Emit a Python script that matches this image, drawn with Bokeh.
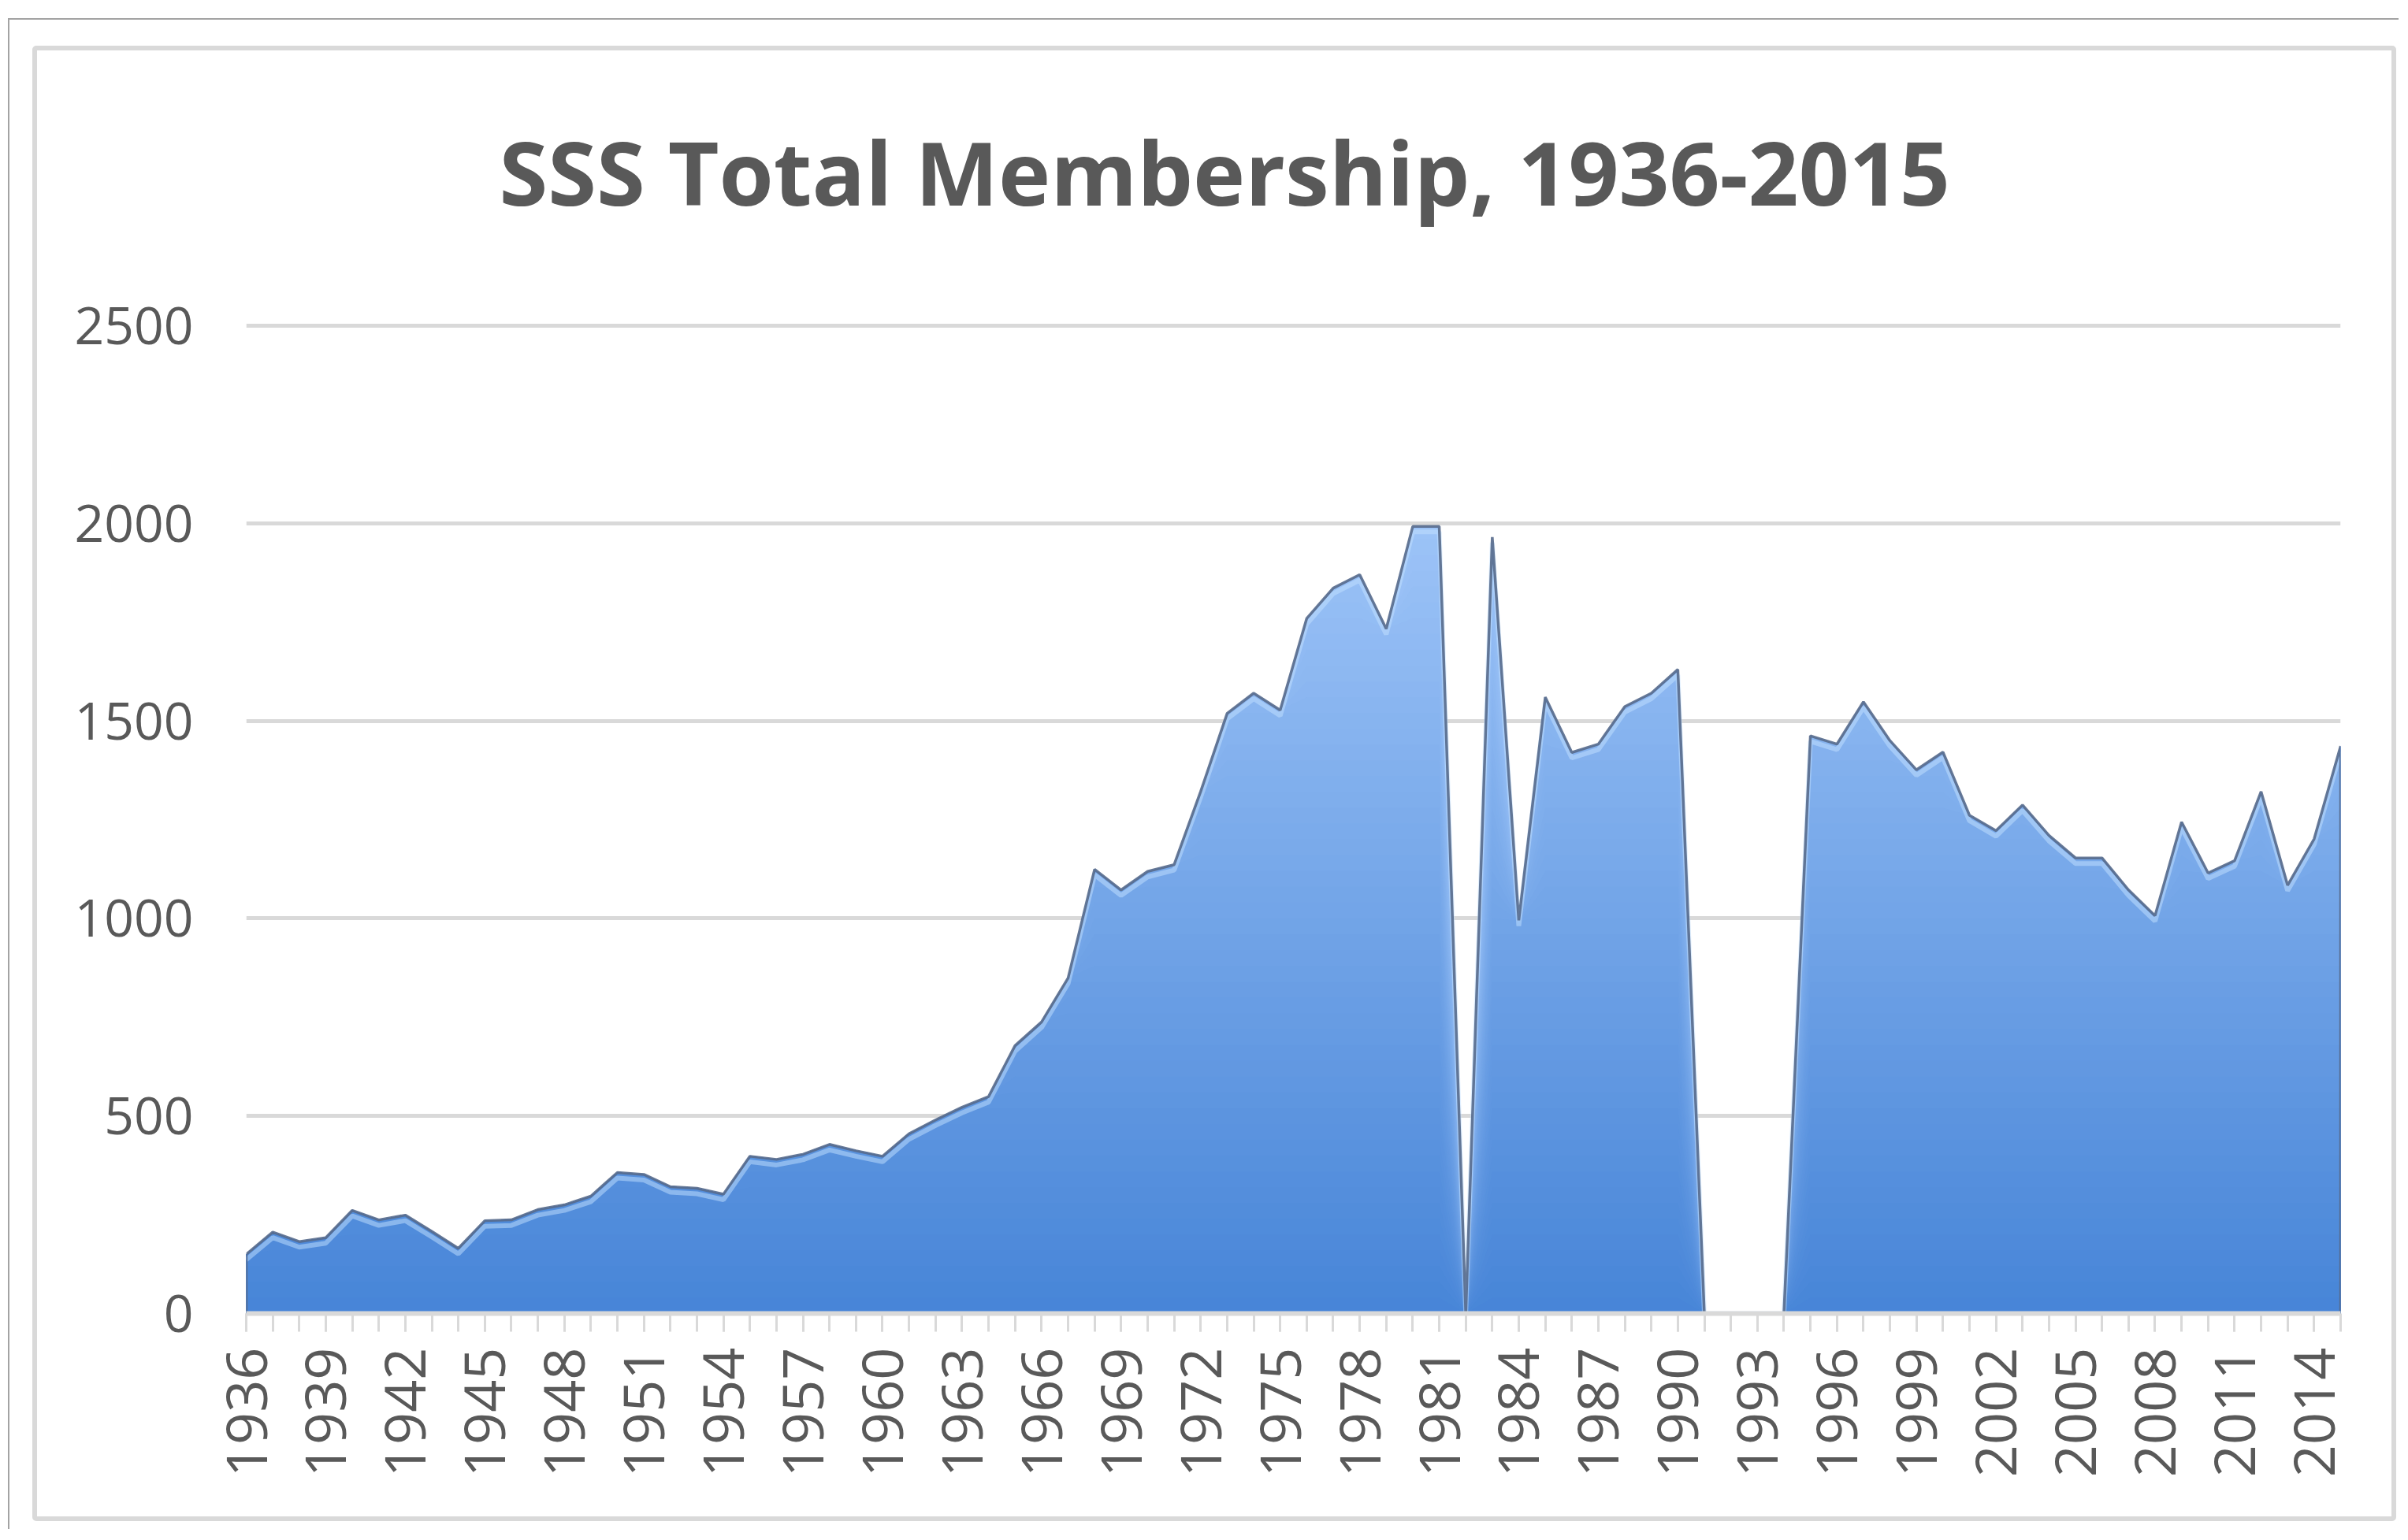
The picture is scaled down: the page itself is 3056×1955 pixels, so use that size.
import numpy as np
from bokeh.plotting import figure
from bokeh.layouts import column
from bokeh.models import FixedTicker, Range1d, Title
from bokeh.embed import file_html
from bokeh.resources import INLINE

# ---- data ----
years = list(range(1936, 2016))
members = [
    150, 206, 182, 192, 261, 237, 249, 208, 165, 235,      # 1936-1945
    237, 263, 275, 297, 357, 352, 321, 317, 302, 398,      # 1946-1955
    390, 403, 428, 412, 398, 455, 490, 522, 549, 678,      # 1956-1965
    738, 849, 1124, 1072, 1119, 1136, 1321, 1519, 1570, 1527,  # 1966-1975
    1759, 1836, 1870, 1733, 1992, 1992, 0, 1965, 995, 1560,    # 1976-1985
    1420, 1441, 1536, 1570, 1630, 0, 0, 0, 0, 1462,            # 1986-1995
    1441, 1548, 1450, 1376, 1421, 1261, 1222, 1287, 1210, 1153,  # 1996-2005
    1153, 1072, 1007, 1244, 1115, 1146, 1321, 1084, 1201, 1436,  # 2006-2015
]
label_years = list(range(1936, 2016, 3))
y_ticks = [0, 500, 1000, 1500, 2000, 2500]
title_text = "SSS Total Membership, 1936-2015"

x = np.array(years, dtype=float)
v = np.array(members, dtype=float)

FONT = "Open Sans"
TXT = "#595959"
GRID = "#d9d9d9"

p = figure(width=3000, height=1873,
           x_range=Range1d(years[0], years[-1]), y_range=Range1d(0, 2510),
           output_backend="svg", toolbar_location=None,
           min_border_left=265, min_border_right=77,
           min_border_top=344, min_border_bottom=270,
           styles={"border": "6px solid #d9d9d9", "border-radius": "5px"})
p.outline_line_color = None
p.background_fill_color = "white"
p.border_fill_color = "white"

# spacer panel between frame and title (keeps the title high without moving the frame)
p.add_layout(Title(text=" ", text_font=FONT, text_font_size="10px",
                   text_color="white", standoff=99), "above")

# title
p.title.text = title_text
p.title.align = "left"
p.title.offset = 321
p.title.text_font = FONT
p.title.text_font_size = "112px"
p.title.text_font_style = "bold"
p.title.text_color = TXT
p.title.standoff = 0

# gradient-like fill: stacked layers from light (top) to dark (bottom)
c_bottom = np.array([0x46, 0x84, 0xd7], dtype=float)
c_top = np.array([0x9c, 0xc3, 0xf7], dtype=float)
levels = np.linspace(2000, 0, 51)[:-1]
for lv in levels:
    t = lv / 2000.0
    c = c_bottom + (c_top - c_bottom) * t
    col = "#%02x%02x%02x" % tuple(int(round(k)) for k in c)
    p.varea(x=x, y1=0, y2=np.minimum(v, lv), fill_color=col, fill_alpha=1.0)

# bevel highlight just inside the top edge
BEVEL = 14
p.line(x=x, y=np.maximum(v - BEVEL, 0), line_color="#c4e2ff",
       line_width=6, line_alpha=0.5)

# dark outline of the area (including its left and right sides)
x_out = np.concatenate([[x[0]], x, [x[-1]]])
y_out = np.concatenate([[0.0], v, [0.0]])
p.line(x=x_out, y=y_out, line_color="#566a8c", line_width=3.5, line_alpha=0.9)

# axes
xa = p.xaxis[0]
xa.ticker = FixedTicker(ticks=label_years, minor_ticks=years)
xa.axis_line_color = GRID
xa.axis_line_width = 6
xa.major_tick_line_color = GRID
xa.minor_tick_line_color = GRID
xa.major_tick_line_width = 3
xa.minor_tick_line_width = 3
xa.major_tick_out = 23
xa.major_tick_in = 0
xa.minor_tick_out = 23
xa.minor_tick_in = 0
xa.major_label_orientation = np.pi / 2
xa.major_label_standoff = 20
xa.major_label_text_font = FONT
xa.major_label_text_font_size = "72px"
xa.major_label_text_color = TXT

ya = p.yaxis[0]
ya.ticker = FixedTicker(ticks=y_ticks)
ya.axis_line_color = None
ya.major_tick_line_color = None
ya.minor_tick_line_color = None
ya.major_label_standoff = 61
ya.major_label_text_font = FONT
ya.major_label_text_font_size = "66px"
ya.major_label_text_color = TXT

p.xgrid.grid_line_color = None
p.ygrid.ticker = FixedTicker(ticks=y_ticks)
p.ygrid.grid_line_color = GRID
p.ygrid.grid_line_width = 5

root = column(p, styles={
    "margin-left": "10px", "margin-top": "23px",
    "border-top": "2px solid #a3a3a3", "border-left": "2px solid #a3a3a3",
    "padding-left": "29px", "padding-top": "33px",
    "padding-right": "3px", "padding-bottom": "10px",
    "background-color": "white",
})

open("out.html", "w").write(file_html(root, INLINE))
